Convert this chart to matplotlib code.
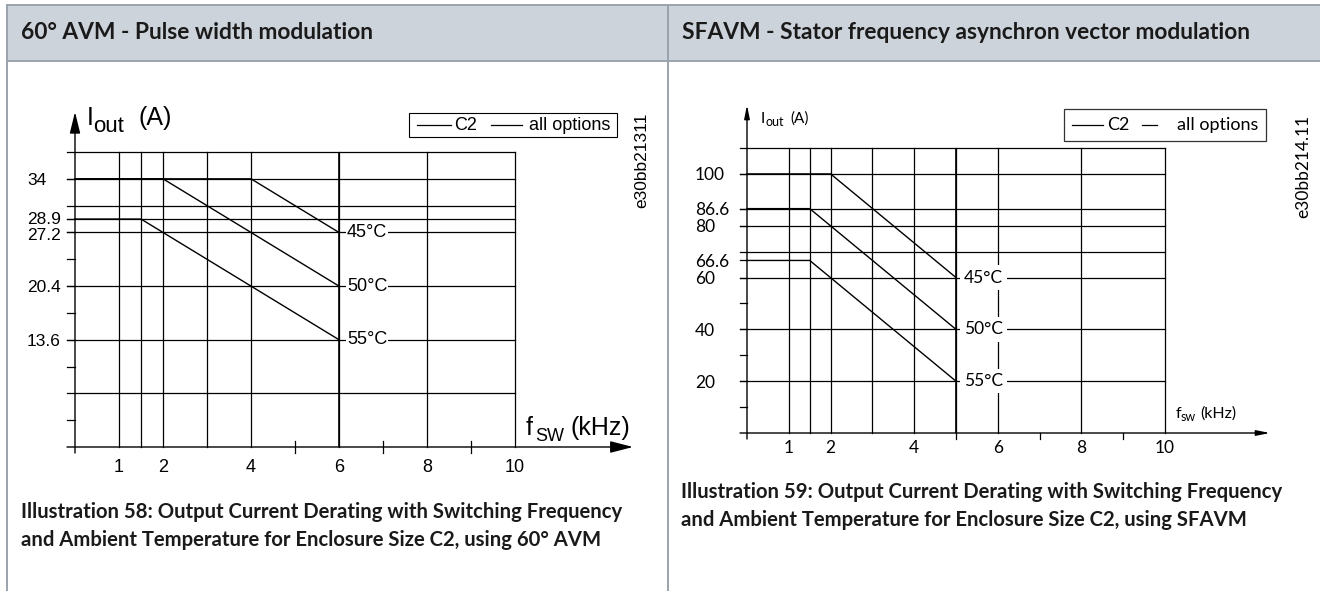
import matplotlib
matplotlib.use("Agg")
import matplotlib.pyplot as plt
from matplotlib.transforms import blended_transform_factory as blend

# --- 60° AVM chart (left)
avm_hgrid = [37.4, 34, 30.6, 28.9, 27.2, 20.4, 13.6, 6.8]
avm_minor = [23.8, 17, 10.2, 3.4]
avm_ylabels = ['34', '28.9', '27.2', '20.4', '13.6']
avm_vgrid = [1, 1.5, 2, 3, 4, 6, 8, 10]
avm_xmarks = [5, 7, 9]
avm_xlabels = [1, 2, 4, 6, 8, 10]
avm_45_x, avm_45_y = [0, 4, 6], [34, 34, 27.2]
avm_50_x, avm_50_y = [0, 2, 6], [34, 34, 20.4]
avm_55_x, avm_55_y = [0, 1.5, 6], [28.9, 28.9, 13.6]

# --- SFAVM chart (right)
sfavm_hgrid = [110, 100, 86.6, 80, 70, 60, 40, 20]
sfavm_minor = [50, 30, 10]
sfavm_ylabels = ['100', '86.6', '80', '66.6', '60', '40', '20']
sfavm_vgrid = [1, 1.5, 2, 3, 4, 5, 6, 8, 10]
sfavm_xmarks = [5, 7, 9]
sfavm_xlabels = [1, 2, 4, 6, 8, 10]
sfavm_45_x, sfavm_45_y = [0, 2, 5], [100, 100, 60]
sfavm_50_x, sfavm_50_y = [0, 1.5, 5], [86.6, 86.6, 40]
sfavm_55_x, sfavm_55_y = [0, 1.5, 5], [66.6, 66.6, 20]

temps = ['45°C', '50°C', '55°C']

W, H = 1320, 591
fig = plt.figure(figsize=(W / 100, H / 100), dpi=100)

# page layer in pixel coords (table frame, titles, captions)
page = fig.add_axes([0, 0, 1, 1])
page.set_xlim(0, W)
page.set_ylim(H, 0)
page.axis('off')

border = '#9aa3ab'
page.add_patch(plt.Rectangle((7, 5), W - 7, 56, fc='#cdd3da', ec='none'))
page.plot([7, W], [5, 5], color=border, lw=1.4)
page.plot([7, W], [61, 61], color=border, lw=1.4)
page.plot([7, 7], [5, H], color=border, lw=1.4)
page.plot([668, 668], [5, H], color=border, lw=1.4)

bold = dict(family='Lato', fontweight='bold', color='#1a1a1a', va='baseline')
page.text(21, 39, '60° AVM - Pulse width modulation', fontsize=16.4, **bold)
page.text(682, 39, 'SFAVM - Stator frequency asynchron vector modulation', fontsize=16.4, **bold)
page.text(21, 518, 'Illustration 58: Output Current Derating with Switching Frequency', fontsize=14.6, **bold)
page.text(21, 546, 'and Ambient Temperature for Enclosure Size C2, using 60° AVM', fontsize=14.6, **bold)
page.text(681, 498, 'Illustration 59: Output Current Derating with Switching Frequency', fontsize=14.6, **bold)
page.text(681, 526, 'and Ambient Temperature for Enclosure Size C2, using SFAVM', fontsize=14.6, **bold)


def chart_axes(x0, x1, y0, y1, xmax, ymax):
    ax = fig.add_axes([x0 / W, 1 - y0 / H, (x1 - x0) / W, (y0 - y1) / H])
    ax.set_xlim(0, xmax)
    ax.set_ylim(0, ymax)
    ax.axis('off')
    return ax


def draw_grid(ax, hgrid, minor, labeled, vgrid, xmax, ymax, ovx, lw):
    for y in hgrid:
        ax.plot([-ovx, xmax], [y, y], color='k', lw=lw, clip_on=False)
    for y in minor + labeled:
        ax.plot([-ovx, 0], [y, y], color='k', lw=lw, clip_on=False)
    for x in vgrid:
        ax.plot([x, x], [0, ymax], color='k', lw=lw, clip_on=False)


def arrow(ax, start, end, head):
    ax.annotate('', xy=end, xytext=start, annotation_clip=False,
                arrowprops=dict(arrowstyle=head, mutation_scale=20, lw=1.0, color='k',
                                shrinkA=0, shrinkB=0))


# ---------------- left chart
axL = chart_axes(75, 515, 447, 152, 10, 37.4)
pxL_x = 10 / 440.0
pxL_y = 37.4 / 295.0
fL = 'Liberation Sans'
draw_grid(axL, avm_hgrid, avm_minor, [float(v) for v in avm_ylabels], avm_vgrid,
          10, 37.4, 8 * pxL_x, 0.9)
for x in avm_xmarks:
    axL.plot([x, x], [-6 * pxL_y, 6 * pxL_y], color='k', lw=0.9, clip_on=False)
arrow(axL, (0, -6 * pxL_y), (0, (447 - 112) * pxL_y), '-|>,head_length=0.65,head_width=0.16')
arrow(axL, (-8 * pxL_x, 0), ((633 - 75) * pxL_x, 0), '-|>,head_length=0.7,head_width=0.18')
for xs, ys in [(avm_45_x, avm_45_y), (avm_50_x, avm_50_y), (avm_55_x, avm_55_y)]:
    axL.plot(xs, ys, color='k', lw=1.0, clip_on=False)
axL.plot([6, 6], [0, 37.4], color='k', lw=1.2)
for t, y in zip(temps, [avm_45_y[-1], avm_50_y[-1], avm_55_y[-1]]):
    axL.text(6 + 8 * pxL_x, y, t, family=fL, fontsize=13, ha='left', va='center',
             bbox=dict(fc='white', ec='none', pad=0.8), zorder=5)
trL = blend(page.transData, axL.transData)
nudge = {'28.9': 1.5 * pxL_y, '27.2': -1.5 * pxL_y}
for lab in avm_ylabels:
    axL.text(27, float(lab) + nudge.get(lab, 0), lab, transform=trL, family=fL,
             fontsize=12.5, ha='left', va='center_baseline')
trLx = blend(axL.transData, page.transData)
for v in avm_xlabels:
    axL.text(v, 467, str(v), transform=trLx, family=fL, fontsize=13, ha='center', va='center')
page.text(87, 125, 'I', family=fL, fontsize=18, va='baseline')
page.text(93, 132, 'out', family=fL, fontsize=16, va='baseline')
page.text(139, 125, '(A)', family=fL, fontsize=18, va='baseline')
page.text(526, 435, 'f', family=fL, fontsize=18, va='baseline')
page.text(535, 441, 'SW', family=fL, fontsize=13, va='baseline')
page.text(571, 435, '(kHz)', family=fL, fontsize=18, va='baseline')
page.text(642, 113, 'e30bb21311', family=fL, fontsize=12.5, rotation=90, ha='center', va='top')
# legend box
page.add_patch(plt.Rectangle((409, 113), 208, 24, fc='white', ec='k', lw=0.8))
page.plot([417, 451], [125, 125], color='k', lw=0.9)
page.plot([491, 522], [125, 125], color='k', lw=0.9)
page.text(454, 125, 'C2', family=fL, fontsize=13, va='center')
page.text(529, 125, 'all options', family=fL, fontsize=13, va='center')

# ---------------- right chart
axR = chart_axes(747, 1165, 433, 148, 10, 110)
pxR_x = 10 / 418.0
pxR_y = 110 / 285.0
fR = 'Lato'
draw_grid(axR, sfavm_hgrid, sfavm_minor, [float(v) for v in sfavm_ylabels], sfavm_vgrid,
          10, 110, 7 * pxR_x, 0.9)
for x in sfavm_xmarks:
    axR.plot([x, x], [-6 * pxR_y, 0], color='k', lw=0.9, clip_on=False)
arrow(axR, (0, -6 * pxR_y), (0, (433 - 105) * pxR_y), '-|>,head_length=0.4,head_width=0.08')
arrow(axR, (-7 * pxR_x, 0), ((1270 - 747) * pxR_x, 0), '-|>,head_length=0.4,head_width=0.08')
for xs, ys in [(sfavm_45_x, sfavm_45_y), (sfavm_50_x, sfavm_50_y), (sfavm_55_x, sfavm_55_y)]:
    axR.plot(xs, ys, color='k', lw=1.0, clip_on=False)
axR.plot([5, 5], [0, 110], color='k', lw=1.2)
for t, y in zip(temps, [sfavm_45_y[-1], sfavm_50_y[-1], sfavm_55_y[-1]]):
    axR.text(5 + 8 * pxR_x, y, t, family=fR, fontsize=12.5, ha='left', va='center',
             bbox=dict(fc='white', ec='none', pad=3), zorder=5)
trR = blend(page.transData, axR.transData)
for lab in sfavm_ylabels:
    axR.text(695, float(lab), lab, transform=trR, family=fR, fontsize=12.5, ha='left',
             va='center_baseline')
trRx = blend(axR.transData, page.transData)
for v in sfavm_xlabels:
    axR.text(v, 448, str(v), transform=trRx, family=fR, fontsize=12.5, ha='center', va='center')
page.text(761, 123, 'I', family=fR, fontsize=11, va='baseline')
page.text(765, 126, 'out', family=fR, fontsize=9, va='baseline')
page.text(790, 123, '(A)', family=fR, fontsize=11, va='baseline')
page.text(1176, 418, 'f', family=fR, fontsize=11.5, va='baseline')
page.text(1181, 421, 'sw', family=fR, fontsize=9, va='baseline')
page.text(1200, 418, '(kHz)', family=fR, fontsize=11.5, va='baseline')
page.text(1303, 115, 'e30bb214.11', family=fR, fontsize=12.5, rotation=90, ha='center', va='top')
page.add_patch(plt.Rectangle((1064, 109), 202, 32, fc='white', ec='#333333', lw=0.9))
page.plot([1072, 1103], [125, 125], color='k', lw=0.9)
page.plot([1142, 1157], [125, 125], color='k', lw=0.9)
page.text(1107, 125, 'C2', family=fR, fontsize=13, va='center')
page.text(1177, 125, 'all options', family=fR, fontsize=13, va='center')

fig.savefig('out.png', dpi=100)
